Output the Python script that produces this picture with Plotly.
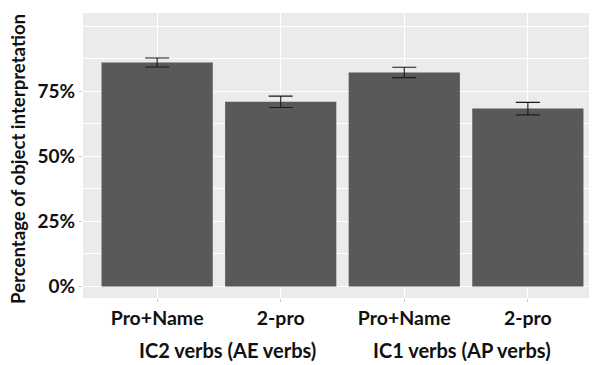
import plotly.graph_objects as go

categories = ["Pro+Name", "2-pro", "Pro+Name ", "2-pro "]
tick_labels = ["Pro+Name", "2-pro", "Pro+Name", "2-pro"]
values = [0.860, 0.709, 0.822, 0.683]
errors = [0.017, 0.022, 0.020, 0.024]
groups = ["IC2 verbs (AE verbs)", "IC1 verbs (AP verbs)"]
group_pos = [0.57, 2.47]
y_ticks = [0, 0.25, 0.5, 0.75]
y_tick_text = ["0%", "25%", "50%", "75%"]
y_minor = [0.125, 0.375, 0.625, 0.875, 1.0]
y_title = "Percentage of object interpretation"

FONT = "Lato"
x_idx = list(range(len(categories)))

fig = go.Figure()
fig.add_trace(go.Bar(
    x=x_idx, y=values, width=0.9,
    marker=dict(color="#595959", line=dict(width=0)),
    error_y=dict(type="data", array=errors, color="#1a1a1a", thickness=1.1, width=12),
    showlegend=False,
))

for g, p in zip(groups, group_pos):
    fig.add_annotation(x=p, y=0, xref="x", yref="paper", yshift=-52,
                       text=g, showarrow=False, yanchor="middle",
                       font=dict(family=FONT, size=20, color="#111111", weight="bold"))

fig.add_annotation(x=0, y=0.488, xref="paper", yref="paper", xshift=-65,
                   text=y_title, textangle=-90, showarrow=False,
                   xanchor="center", yanchor="middle",
                   font=dict(family=FONT, size=18.6, color="#111111", weight="bold"))

fig.update_layout(
    width=597, height=365,
    margin=dict(l=75, r=3, t=5, b=75),
    paper_bgcolor="white", plot_bgcolor="#EBEBEB",
    bargap=0.1,
    xaxis=dict(
        range=[-0.6, 3.6], tickvals=x_idx, ticktext=tick_labels,
        showgrid=True, gridcolor="white", gridwidth=1.2, zeroline=False,
        ticks="outside", ticklen=3, tickcolor="#c8c8c8",
        tickfont=dict(family=FONT, size=19.5, color="#111111", weight="bold"),
        showline=False, automargin=False,
    ),
    yaxis=dict(
        range=[-0.044, 1.05], tickvals=y_ticks, ticktext=y_tick_text,
        showgrid=True, gridcolor="white", gridwidth=1.2, zeroline=False,
        ticks="outside", ticklen=3, tickcolor="#c8c8c8",
        tickfont=dict(family=FONT, size=19, color="#111111", weight="bold"),
        minor=dict(tickvals=y_minor, showgrid=True, gridcolor="white", gridwidth=0.9, ticks=""),
        showline=False, automargin=False,
    ),
)

fig.write_html("out.html")
